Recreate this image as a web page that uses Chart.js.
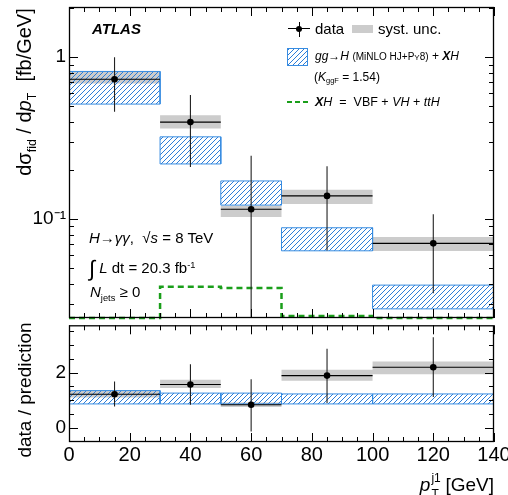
<!DOCTYPE html>
<html><head><meta charset="utf-8">
<script src="https://cdn.jsdelivr.net/npm/chart.js@4.4.0/dist/chart.umd.min.js"></script>
<style>
html,body{margin:0;padding:0;background:#fff;}
#wrap{position:relative;width:508px;height:495px;overflow:hidden;font-family:"Liberation Sans",Arial,Helvetica,sans-serif;color:#000;}
canvas{position:absolute;left:0;}
.t{position:absolute;white-space:nowrap;line-height:1;}
.sb{font-size:0.62em;position:relative;top:0.38em;}
.sp{font-size:0.62em;position:relative;top:-0.55em;}
.rot{position:absolute;white-space:nowrap;line-height:1;transform:translate(-50%,-50%) rotate(-90deg);}
</style></head><body>
<div id="wrap">
<canvas id="cTop" width="508" height="322" style="top:0"></canvas>
<canvas id="cBot" width="508" height="173" style="top:322px"></canvas>

<div class="rot" style="left:24px;top:92px;font-size:20px">dσ<span class="sb">fid</span> / d<i>p</i><span class="sb">T</span>&nbsp; [fb/GeV]</div>
<div class="rot" style="left:24px;top:390px;font-size:19px">data / prediction</div>
<div class="t" style="right:14px;top:472px;font-size:19px"><i>p</i><span style="display:inline-block;position:relative;width:15px;height:1em"><span style="position:absolute;left:1px;top:0px;font-size:12px;line-height:1">j1</span><span style="position:absolute;left:1px;top:16px;font-size:12px;line-height:1">T</span></span>[GeV]</div>

<div class="t" style="left:92px;top:21px;font-size:15px;font-weight:bold;font-style:italic">ATLAS</div>

<div style="position:absolute;left:288px;top:28px;width:22px;height:1px;background:#000"></div>
<div style="position:absolute;left:298.5px;top:22px;width:1px;height:15px;background:#000"></div>
<div style="position:absolute;left:296px;top:25.5px;width:6px;height:6px;border-radius:50%;background:#000"></div>
<div class="t" style="left:315px;top:21px;font-size:15px">data</div>
<div style="position:absolute;left:352px;top:25px;width:21px;height:8px;background:#cccccc"></div>
<div class="t" style="left:378px;top:21px;font-size:15px">syst. unc.</div>

<div style="position:absolute;left:287px;top:48px;width:19px;height:16px;border:1px solid rgb(55,140,225);background:repeating-linear-gradient(135deg, rgb(45,125,215) 0 1px, transparent 1px 3.6px)"></div>
<div class="t" style="left:315px;top:50px;font-size:12px"><i>gg</i>→<i>H</i> <span style="font-size:10px">(MiNLO HJ+P<span style="font-size:0.8em">Y</span>8)</span> + <b><i>X</i></b><i>H</i></div>
<div class="t" style="left:314px;top:70.5px;font-size:12px">(<i>K</i><span class="sb">ggF</span> = 1.54)</div>
<div style="position:absolute;left:287px;top:100.5px;width:22px;height:2.5px;background:repeating-linear-gradient(90deg, #1a9e1a 0 5px, transparent 5px 8px)"></div>
<div class="t" style="left:315px;top:95.5px;font-size:12.5px"><b><i>X</i></b><i>H</i> &nbsp;= &nbsp;VBF + <i>VH</i> + <i>ttH</i></div>

<div class="t" style="left:89px;top:230px;font-size:15px"><i>H</i>→<i>γγ</i>, &nbsp;√<i>s</i> = 8 TeV</div>
<div class="t" style="left:89px;top:255px;font-size:15px"><span style="font-size:22px;position:relative;top:3px">∫</span> <i>L</i> dt = 20.3 fb<span class="sp">-1</span></div>
<div class="t" style="left:90px;top:284px;font-size:15px"><i>N</i><span class="sb">jets</span> ≥ 0</div>
</div>

<script>
// ---- data ----
const xEdges = [0, 30, 50, 70, 100, 140];
const xCenters = [15, 40, 60, 85, 120];

// upper panel: d sigma / d pT [fb/GeV]
const dataVals   = [0.73, 0.397, 0.115, 0.139, 0.0708];
const dataErrHi  = [1.0, 0.583, 0.246, 0.212, 0.107];
const dataErrLo  = [0.46, 0.21, 0.02, 0.064, 0.0348];
const systHi     = [0.816, 0.438, 0.121, 0.152, 0.0775];
const systLo     = [0.688, 0.363, 0.103, 0.124, 0.0635];
const predHi     = [0.816, 0.322, 0.172, 0.0884, 0.0391];
const predLo     = [0.513, 0.219, 0.122, 0.0637, 0.0279];
const xhVals     = [0.0245, 0.0382, 0.0375, 0.0252, 0.0245];

// lower panel: data / prediction
const ratioVals  = [1.22, 1.57, 0.84, 1.89, 2.19];
const ratioErrHi = [1.68, 2.30, 1.76, 2.86, 3.27];
const ratioErrLo = [0.78, 0.84, -0.12, 0.90, 1.12];
const ratioSystHi= [1.35, 1.74, 0.92, 2.10, 2.40];
const ratioSystLo= [1.10, 1.44, 0.76, 1.70, 1.94];
const ratioPredHi= [1.35, 1.26, 1.26, 1.23, 1.23];
const ratioPredLo= [0.87, 0.87, 0.87, 0.87, 0.87];

// tick labels
const xTickLabels = [0, 20, 40, 60, 80, 100, 120, 140];
const topYTickLabels = [0.1, 1];
const botYTickLabels = [0, 2];

// axis settings
const xMin = 0, xMax = 140;
const topYMin = 0.0245, topYMax = 2.04;
const botYMin = -0.5, botYMax = 3.7;

const FONT = '"Liberation Sans", Arial, Helvetica, sans-serif';
const BLUE = 'rgb(55,140,225)';
const HATCH = 'rgb(45,125,215)';
const GREY = '#cccccc';
const GREEN = '#1a9e1a';
const NONE = 'rgba(0,0,0,0)';

function makeHatch() {
  const c = document.createElement('canvas');
  c.width = 5; c.height = 5;
  const g = c.getContext('2d');
  g.strokeStyle = HATCH; g.lineWidth = 1;
  g.beginPath();
  g.moveTo(0, 5); g.lineTo(5, 0);
  g.moveTo(-1, 1); g.lineTo(1, -1);
  g.moveTo(4, 6); g.lineTo(6, 4);
  g.stroke();
  return g.createPattern(c, 'repeat');
}

function steps(vals) {
  const p = vals.map((v, i) => ({x: xEdges[i], y: v}));
  p.push({x: xEdges[xEdges.length - 1], y: vals[vals.length - 1]});
  return p;
}
function boxes(hi, lo) {
  const p = [];
  hi.forEach((h, i) => {
    const a = xEdges[i], b = xEdges[i + 1];
    p.push({x: a, y: lo[i]}, {x: a, y: h}, {x: b, y: h}, {x: b, y: lo[i]}, {x: a, y: lo[i]}, {x: b, y: null});
  });
  return p;
}
function hbars(vals) {
  const p = [];
  vals.forEach((v, i) => p.push({x: xEdges[i], y: v}, {x: xEdges[i + 1], y: v}, {x: xEdges[i + 1], y: null}));
  return p;
}
function vbars(hi, lo) {
  const p = [];
  xCenters.forEach((c, i) => p.push({x: c, y: lo[i]}, {x: c, y: hi[i]}, {x: c, y: null}));
  return p;
}
function markers(vals) { return vals.map((v, i) => ({x: xCenters[i], y: v})); }

const base = {pointRadius: 0, pointHoverRadius: 0, tension: 0, spanGaps: false, fill: false};

function buildDatasets(o) {
  const ds = [
    Object.assign({}, base, {data: markers(o.vals), showLine: false, pointRadius: 3.3, pointBackgroundColor: '#000', pointBorderWidth: 0, order: 0}),
    Object.assign({}, base, {data: hbars(o.vals), borderColor: '#000', borderWidth: 1.1, order: 1}),
    Object.assign({}, base, {data: vbars(o.errHi, o.errLo), borderColor: '#222', borderWidth: 1.1, order: 1}),
  ];
  if (o.xh) ds.push(Object.assign({}, base, {data: steps(o.xh), stepped: 'before', borderColor: GREEN, borderWidth: 2.5, borderDash: [6, 4], clip: false, order: 2}));
  ds.push(
    Object.assign({}, base, {data: boxes(o.predHi, o.predLo), borderColor: BLUE, borderWidth: 1, order: 3}),
    Object.assign({}, base, {data: steps(o.predHi), stepped: 'before', borderColor: NONE, borderWidth: 0, backgroundColor: makeHatch(), fill: '+1', order: 4}),
    Object.assign({}, base, {data: steps(o.predLo), stepped: 'before', borderColor: NONE, borderWidth: 0, order: 4}),
    Object.assign({}, base, {data: steps(o.systHi), stepped: 'before', borderColor: NONE, borderWidth: 0, backgroundColor: GREY, fill: '+1', order: 5}),
    Object.assign({}, base, {data: steps(o.systLo), stepped: 'before', borderColor: NONE, borderWidth: 0, order: 5})
  );
  return ds;
}

const frameTicks = {
  id: 'frameTicks',
  afterDatasetsDraw(chart, args, opts) {
    const ctx = chart.ctx;
    const {left, right, top, bottom} = chart.chartArea;
    const x = chart.scales.x, y = chart.scales.y;
    ctx.save();
    ctx.strokeStyle = '#000';
    ctx.lineWidth = 1;
    ctx.beginPath();
    for (let v = xMin; v <= xMax + 1e-9; v += 5) {
      const px = Math.round(x.getPixelForValue(v)) + 0.5;
      const len = (v % 20 === 0) ? 9 : 5;
      ctx.moveTo(px, bottom); ctx.lineTo(px, bottom - len);
      ctx.moveTo(px, top); ctx.lineTo(px, top + len);
    }
    opts.yTicks.forEach(t => {
      const py = Math.round(y.getPixelForValue(t.v)) + 0.5;
      if (py < top || py > bottom) return;
      const len = t.major ? 9 : 5;
      ctx.moveTo(left, py); ctx.lineTo(left + len, py);
      ctx.moveTo(right, py); ctx.lineTo(right - len, py);
    });
    ctx.stroke();
    ctx.lineWidth = 1.3;
    ctx.strokeRect(left + 0.5, top + 0.5, right - left - 1, bottom - top - 1);
    ctx.restore();
  }
};

const topYTicks = [];
[0.01, 0.1, 1].forEach(d => { for (let m = 1; m <= 9; m++) { const v = m * d; if (v >= topYMin && v <= topYMax) topYTicks.push({v, major: m === 1}); } });
const botYTicks = [];
for (let v = -0.5; v <= botYMax + 1e-9; v += 0.5) botYTicks.push({v, major: Math.abs(v % 2) < 1e-9});

function fitY(s) { s.width = 69; s.paddingTop = 0; s.paddingBottom = 0; }

new Chart(document.getElementById('cTop'), {
  type: 'line',
  data: {datasets: buildDatasets({vals: dataVals, errHi: dataErrHi, errLo: dataErrLo, systHi, systLo, predHi, predLo, xh: xhVals})},
  options: {
    responsive: false, animation: false, devicePixelRatio: 1,
    layout: {padding: {top: 7, right: 14, bottom: 4, left: 0}},
    plugins: {legend: {display: false}, tooltip: {enabled: false}, frameTicks: {yTicks: topYTicks}},
    events: [],
    scales: {
      x: {type: 'linear', min: xMin, max: xMax, display: false},
      y: {type: 'logarithmic', min: topYMin, max: topYMax, afterFit: fitY,
          afterBuildTicks: s => { s.ticks = topYTickLabels.map(v => ({value: v})); },
          grid: {display: false, drawTicks: false}, border: {display: false},
          ticks: {autoSkip: false, padding: 3, color: '#000', font: {family: FONT, size: 19},
                  callback: v => (Math.abs(v - 1) < 1e-9 ? '1' : '10⁻¹')}}
    }
  },
  plugins: [frameTicks]
});

new Chart(document.getElementById('cBot'), {
  type: 'line',
  data: {datasets: buildDatasets({vals: ratioVals, errHi: ratioErrHi, errLo: ratioErrLo, systHi: ratioSystHi, systLo: ratioSystLo, predHi: ratioPredHi, predLo: ratioPredLo})},
  options: {
    responsive: false, animation: false, devicePixelRatio: 1,
    layout: {padding: {top: 3, right: 14, bottom: 0, left: 0}},
    plugins: {legend: {display: false}, tooltip: {enabled: false}, frameTicks: {yTicks: botYTicks}},
    events: [],
    scales: {
      x: {type: 'linear', min: xMin, max: xMax,
          afterBuildTicks: s => { s.ticks = xTickLabels.map(v => ({value: v})); },
          afterFit: s => { s.height = 53; s.paddingLeft = 0; s.paddingRight = 0; },
          grid: {display: false, drawTicks: false}, border: {display: false},
          ticks: {autoSkip: false, maxRotation: 0, padding: 1, color: '#000', font: {family: FONT, size: 20}}},
      y: {type: 'linear', min: botYMin, max: botYMax, afterFit: fitY,
          afterBuildTicks: s => { s.ticks = botYTickLabels.map(v => ({value: v})); },
          grid: {display: false, drawTicks: false}, border: {display: false},
          ticks: {autoSkip: false, padding: 3, color: '#000', font: {family: FONT, size: 19}}}
    }
  },
  plugins: [frameTicks]
});
</script>
</body></html>
